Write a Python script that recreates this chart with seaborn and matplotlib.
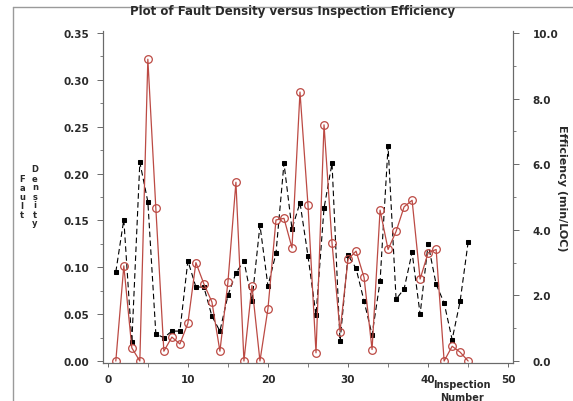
import matplotlib
matplotlib.use("Agg")
import matplotlib.pyplot as plt
from matplotlib.ticker import MultipleLocator, FormatStrFormatter
from matplotlib.lines import Line2D
import seaborn as sns
import pandas as pd

# Inspection records
inspection = list(range(1, 46))
fault_density = [0.095, 0.151, 0.020, 0.212, 0.170, 0.029, 0.025, 0.032, 0.032, 0.107,
                 0.079, 0.079, 0.048, 0.032, 0.070, 0.094, 0.107, 0.064, 0.145, 0.080,
                 0.115, 0.211, 0.141, 0.169, 0.112, 0.049, 0.163, 0.211, 0.021, 0.113,
                 0.099, 0.064, 0.028, 0.085, 0.229, 0.066, 0.077, 0.116, 0.050, 0.125,
                 0.082, 0.062, 0.023, 0.064, 0.127]
efficiency = [0.0, 2.9, 0.4, 0.0, 9.2, 4.65, 0.3, 0.73, 0.52, 1.15,
              3.0, 2.35, 1.8, 0.3, 2.4, 5.45, 0.0, 2.3, 0.0, 1.6,
              4.3, 4.35, 3.45, 8.2, 4.75, 0.25, 7.2, 3.6, 0.9, 3.1,
              3.35, 2.55, 0.35, 4.6, 3.4, 3.95, 4.7, 4.9, 2.5, 3.3,
              3.4, 0.0, 0.45, 0.27, 0.0]

left_ticks = [0.00, 0.05, 0.10, 0.15, 0.20, 0.25, 0.30, 0.35]
right_ticks = [0.0, 2.0, 4.0, 6.0, 8.0, 10.0]
x_ticks = [0, 10, 20, 30, 40, 50]

df = pd.DataFrame({"inspection": inspection,
                   "fault_density": fault_density,
                   "efficiency": efficiency})

sns.set_style("white")
plt.rcParams["font.family"] = ["DejaVu Sans"]

W, H = 573, 402
fig = plt.figure(figsize=(W / 100, H / 100), dpi=100)
ax = fig.add_axes([103 / W, 1 - 364 / H, (513 - 103) / W, (364 - 32) / H])
ax2 = ax.twinx()

red = "#bc4a44"
txt = "#2a2a2a"
spine_c = "#6a6a6a"

sns.lineplot(data=df, x="inspection", y="fault_density", ax=ax, color="black",
             linestyle=(0, (5, 3)), linewidth=0.8, marker="s", markersize=3.5,
             markeredgecolor="black", zorder=3)
sns.lineplot(data=df, x="inspection", y="efficiency", ax=ax2, color=red,
             linewidth=0.9, marker="o", markersize=5.5, markerfacecolor="none",
             markeredgecolor=red, markeredgewidth=0.9, zorder=2)

ax.set_xlim(-0.6, 50.6)
ax.set_ylim(-0.002, 0.352)
ax2.set_ylim(-0.06, 10.06)

ax.set_xticks(x_ticks)
ax.xaxis.set_minor_locator(MultipleLocator(5))
ax.set_yticks(left_ticks)
ax.yaxis.set_minor_locator(MultipleLocator(0.025))
ax.yaxis.set_major_formatter(FormatStrFormatter("%.2f"))
ax2.set_yticks(right_ticks)
ax2.yaxis.set_minor_locator(MultipleLocator(1.0))
ax2.yaxis.set_major_formatter(FormatStrFormatter("%.1f"))

for a in (ax, ax2):
    a.set_xlabel("")
    a.set_ylabel("")
    a.spines["top"].set_visible(False)
    for s in ("left", "right", "bottom"):
        a.spines[s].set_color(spine_c)
        a.spines[s].set_linewidth(0.8)

ax.tick_params(axis="y", which="major", direction="out", length=4, width=0.7,
               color=spine_c, pad=6, labelsize=7.5, labelcolor=txt, left=True)
ax.tick_params(axis="y", which="minor", direction="out", length=2, width=0.6,
               color=spine_c, left=True)
ax.tick_params(axis="x", which="major", direction="out", length=3, width=0.7,
               color=spine_c, pad=5, labelsize=7.5, labelcolor=txt, bottom=True)
ax.tick_params(axis="x", which="minor", direction="out", length=3, width=0.6,
               color=spine_c, bottom=True)
ax2.tick_params(axis="y", which="major", direction="out", length=4, width=0.7,
                color=spine_c, pad=10, labelsize=7.5, labelcolor=txt, right=True)
ax2.tick_params(axis="y", which="minor", direction="out", length=2, width=0.6,
                color=spine_c, right=True)
for lab in ax.get_yticklabels() + ax.get_xticklabels() + ax2.get_yticklabels():
    lab.set_fontweight("bold")

# Title
fig.text(293 / W, 1 - 12 / H, "Plot of Fault Density versus Inspection Efficiency",
         ha="center", va="center", fontsize=8.5, fontweight="bold", color=txt)

# Left axis label, letters stacked in two columns
fig.text(22 / W, 1 - 198 / H, "\n".join("Fault"), ha="center", va="center",
         fontsize=6, fontweight="bold", color=txt, linespacing=1.0)
fig.text(35 / W, 1 - 197 / H, "\n".join("Density"), ha="center", va="center",
         fontsize=6, fontweight="bold", color=txt, linespacing=1.0)

# Right axis label
fig.text(562 / W, 1 - 188 / H, "Efficiency (min/LOC)", ha="center", va="center",
         rotation=-90, fontsize=8, fontweight="bold", color=txt)

# X axis label
fig.text(462 / W, 1 - 385 / H, "Inspection", ha="center", va="center",
         fontsize=7, fontweight="bold", color=txt)
fig.text(462 / W, 1 - 398 / H, "Number", ha="center", va="center",
         fontsize=7, fontweight="bold", color=txt)

# Page frame lines
fig.add_artist(Line2D([13 / W, 13 / W], [0, 1 - 8 / H], transform=fig.transFigure,
                      color="#9a9a9a", linewidth=1.0))
fig.add_artist(Line2D([13 / W, 1], [1 - 8 / H, 1 - 8 / H], transform=fig.transFigure,
                      color="#9a9a9a", linewidth=1.0))

fig.savefig("out.png", dpi=100)
